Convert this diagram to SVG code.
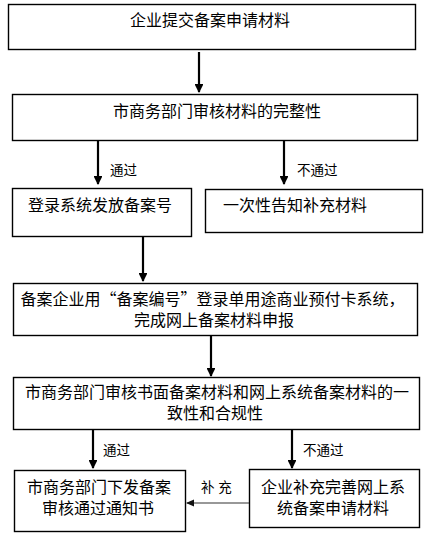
<svg xmlns="http://www.w3.org/2000/svg" width="432" height="539" viewBox="0 0 432 539">
<style>
.box{fill:#fff;stroke:#000;stroke-width:1.4}
.t{font-family:"Liberation Sans","Noto Sans CJK SC",sans-serif;font-size:16px;fill:#000;text-anchor:middle}
.q{font-family:"Noto Sans CJK SC",sans-serif}
.lbl{font-family:"Liberation Sans","Noto Sans CJK SC",sans-serif;font-size:13.5px;fill:#000}
.arr{stroke:#000;stroke-width:2.2;fill:none}
.arr2{stroke:#333;stroke-width:1.2;fill:none}
</style>
<defs>
<marker id="ah" markerWidth="4" markerHeight="4" refX="3.6" refY="2" orient="auto" markerUnits="strokeWidth">
<path d="M0,0 L4,2 L0,4 Z" fill="#000"/>
</marker>
<marker id="ah2" markerWidth="7" markerHeight="6" refX="6" refY="3" orient="auto" markerUnits="strokeWidth">
<path d="M0,0 L7,3 L0,6 Z" fill="#111"/>
</marker>
</defs>
<g id="n1"><rect class="box" x="8.5" y="4.5" width="407" height="45"/><text class="t" x="210" y="26">企业提交备案申请材料</text></g>
<g id="n2"><rect class="box" x="12.5" y="94.5" width="405" height="46"/><text class="t" x="217" y="117">市商务部门审核材料的完整性</text></g>
<g id="n3"><rect class="box" x="12.5" y="188.5" width="179" height="48"/><text class="t" x="100" y="211">登录系统发放备案号</text></g>
<g id="n4"><rect class="box" x="205.5" y="189.5" width="217" height="43"/><text class="t" x="295" y="211">一次性告知补充材料</text></g>
<g id="n5"><rect class="box" x="13.5" y="283.5" width="404" height="52"/><text class="t" x="212.5" y="305">备案企业用<tspan class="q">“</tspan>备案编号<tspan class="q">”</tspan>登录单用途商业预付卡系统，</text><text class="t" x="214" y="326">完成网上备案材料申报</text></g>
<g id="n6"><rect class="box" x="13.5" y="377.5" width="406" height="52"/><text class="t" x="217" y="398">市商务部门审核书面备案材料和网上系统备案材料的一</text><text class="t" x="215" y="419">致性和合规性</text></g>
<g id="n7"><rect class="box" x="14.5" y="470.5" width="171" height="61"/><text class="t" x="99" y="493">市商务部门下发备案</text><text class="t" x="98" y="514">审核通过通知书</text></g>
<g id="n8"><rect class="box" x="249.5" y="469.5" width="170" height="58"/><text class="t" x="333" y="493">企业补充完善网上系</text><text class="t" x="333" y="514">统备案申请材料</text></g>
<g id="connectors">
<line class="arr" x1="199" y1="52" x2="199" y2="92" marker-end="url(#ah)"/>
<line class="arr" x1="98" y1="141" x2="98" y2="184" marker-end="url(#ah)"/>
<text class="lbl" x="110" y="175">通过</text>
<line class="arr" x1="284" y1="141" x2="284" y2="184" marker-end="url(#ah)"/>
<text class="lbl" x="297" y="175">不通过</text>
<line class="arr" x1="143" y1="237" x2="143" y2="281" marker-end="url(#ah)"/>
<line class="arr" x1="211" y1="336" x2="211" y2="376" marker-end="url(#ah)"/>
<line class="arr" x1="93" y1="430" x2="93" y2="468" marker-end="url(#ah)"/>
<text class="lbl" x="103" y="455">通过</text>
<line class="arr" x1="292" y1="430" x2="292" y2="468" marker-end="url(#ah)"/>
<text class="lbl" x="303" y="455">不通过</text>
<line class="arr2" x1="249" y1="503" x2="187" y2="503" marker-end="url(#ah2)"/>
<text class="lbl" x="201" y="492">补 充</text>
</g>
</svg>
